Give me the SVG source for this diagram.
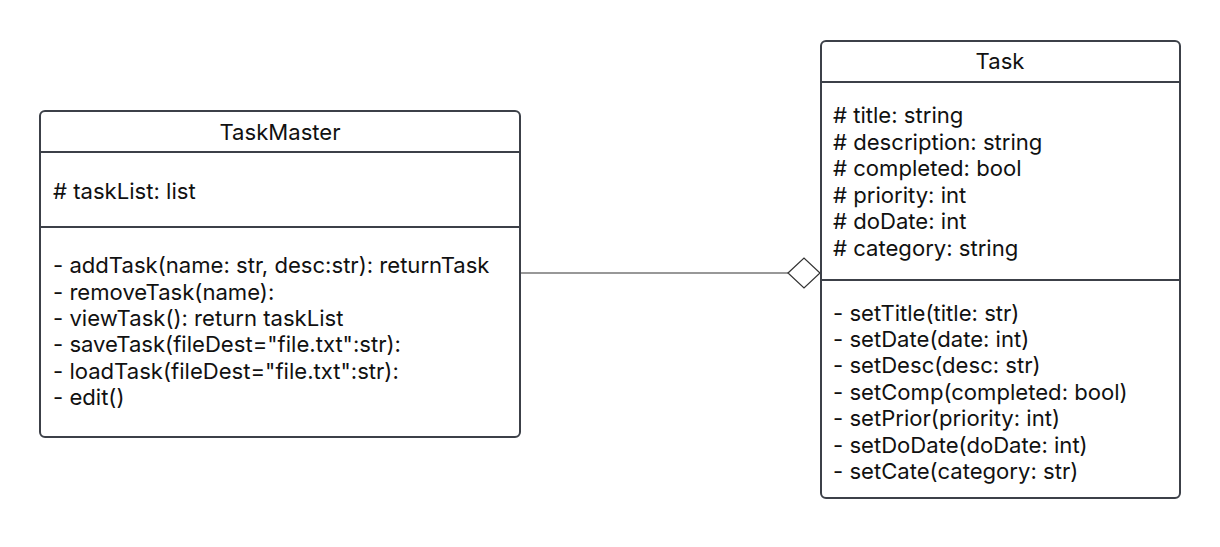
<svg xmlns="http://www.w3.org/2000/svg" width="1220" height="547" viewBox="0 0 1220 547">
<style>
.box{fill:#ffffff;stroke:#3c4048;stroke-width:2}
.sep{stroke:#3c4048;stroke-width:2}
.t{font-family:Inter,"Noto Sans",sans-serif;font-size:22.1px;fill:#111111}
.c{text-anchor:middle}
.conn{stroke:#333333;stroke-width:1.2;fill:none}
</style>
<rect x="0" y="0" width="1220" height="547" fill="#ffffff"/>
<g id="connectors">
<line class="conn" x1="521" y1="273" x2="788" y2="273"/>
<polygon class="conn" fill="#ffffff" points="788,273 804,258 820,273 804,288"/>
</g>
<g id="TaskMaster">
<rect class="box" x="40" y="111" width="480" height="326" rx="5"/>
<line class="sep" x1="40" y1="152" x2="520" y2="152"/>
<line class="sep" x1="40" y1="227" x2="520" y2="227"/>
<text class="t c" x="280" y="140">TaskMaster</text>
<text class="t" x="53" y="199"># taskList: list</text>
<text class="t" x="53" y="273">- addTask(name: str, desc:str): returnTask</text>
<text class="t" x="53" y="300">- removeTask(name):</text>
<text class="t" x="53" y="326">- viewTask(): return taskList</text>
<text class="t" x="53" y="352">- saveTask(fileDest="file.txt":str):</text>
<text class="t" x="53" y="379">- loadTask(fileDest="file.txt":str):</text>
<text class="t" x="53" y="405">- edit()</text>
</g>
<g id="Task">
<rect class="box" x="821" y="41" width="359" height="457" rx="5"/>
<line class="sep" x1="821" y1="82" x2="1180" y2="82"/>
<line class="sep" x1="821" y1="280" x2="1180" y2="280"/>
<text class="t c" x="1000" y="69">Task</text>
<text class="t" x="833" y="123"># title: string</text>
<text class="t" x="833" y="150"># description: string</text>
<text class="t" x="833" y="176"># completed: bool</text>
<text class="t" x="833" y="203"># priority: int</text>
<text class="t" x="833" y="229"># doDate: int</text>
<text class="t" x="833" y="256"># category: string</text>
<text class="t" x="833" y="321">- setTitle(title: str)</text>
<text class="t" x="833" y="347">- setDate(date: int)</text>
<text class="t" x="833" y="373">- setDesc(desc: str)</text>
<text class="t" x="833" y="400">- setComp(completed: bool)</text>
<text class="t" x="833" y="426">- setPrior(priority: int)</text>
<text class="t" x="833" y="453">- setDoDate(doDate: int)</text>
<text class="t" x="833" y="479">- setCate(category: str)</text>
</g>
</svg>
